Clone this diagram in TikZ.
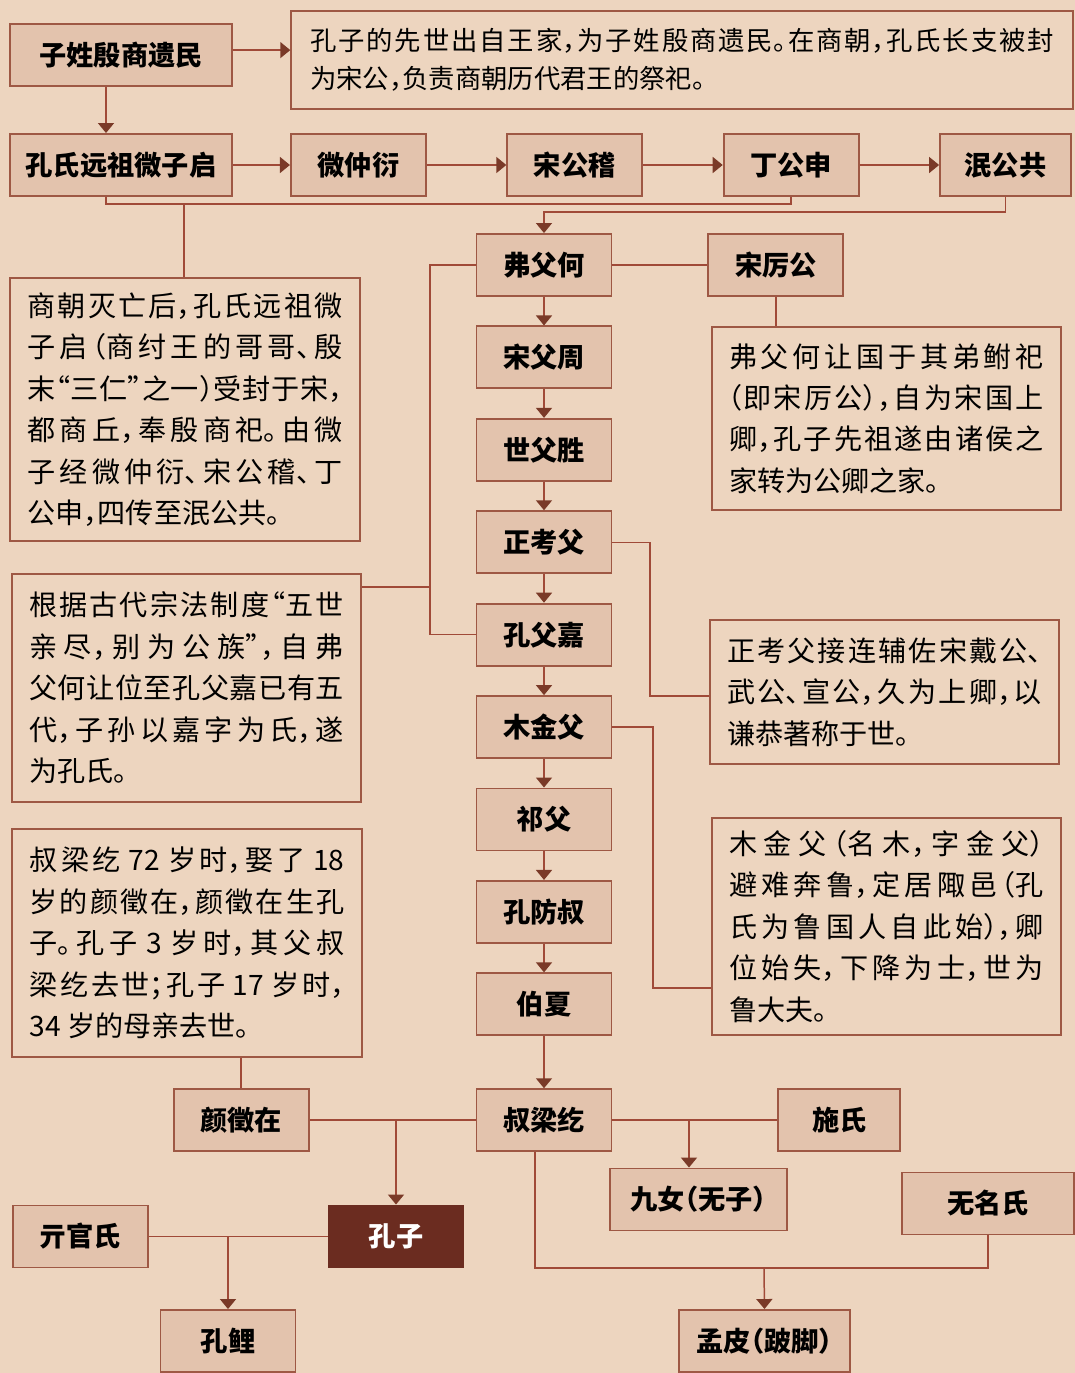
\documentclass[tikz,border=0pt]{standalone}
\usepackage{fontspec}
\setmainfont{Noto Sans CJK SC}[RawFeature=+halt]
\usepackage{tikz}
\usetikzlibrary{positioning,arrows.meta}
\XeTeXlinebreaklocale "zh"
\XeTeXlinebreakskip=0pt plus 4pt
\definecolor{paper}{HTML}{EDD5BF}
\definecolor{boxfill}{HTML}{E3C3AD}
\definecolor{boxline}{HTML}{9E5844}
\definecolor{rust}{HTML}{A04A38}
\definecolor{tipcol}{HTML}{7A3A28}
\definecolor{darkred}{HTML}{6B2C20}
\tikzset{
  box/.style={rectangle,draw=boxline,fill=boxfill,line width=1.1pt,
    minimum width=2.7cm,minimum height=1.24cm,inner sep=0pt,
    font=\fontsize{15.5}{18}\selectfont\bfseries},
  note/.style={rectangle,draw=boxline,line width=0.9pt,inner sep=0pt,
    text width=6.3cm,minimum width=6.98cm,align=justify,
    font=\fontsize{16}{23.6}\selectfont},
  fl/.style={-{Triangle[length=2mm,width=3.2mm,color=tipcol]},draw=rust,line width=0.85pt},
  ln/.style={draw=rust,line width=0.85pt},
}
\begin{document}
\begin{tikzpicture}[x=0.02cm,y=-0.02cm]
  \useasboundingbox (0,0) rectangle (1075,1373);
  \fill[paper] (0,0) rectangle (1075,1373);
  % origin and the Song line
  \node[box,minimum width=4.44cm] (wzq) at (121,165) {孔氏远祖微子启};
  \node[box,minimum width=4.44cm,above=9.2mm of wzq] (zx) {子姓殷商遗民};
  \node[note,text width=14.88cm,minimum width=15.64cm,minimum height=1.96cm,
    font=\fontsize{15}{21.5}\selectfont] (intro) at (682,60)
    {孔子的先世出自王家，为子姓殷商遗民。在商朝，孔氏长支被封\linebreak 为宋公，负责商朝历代君王的祭祀。};
  \node[box,right=11.4mm of wzq] (wzy) {微仲衍};
  \node[box,right=15.9mm of wzy] (sgj) {宋公稽};
  \node[box,right=15.9mm of sgj] (dgs) {丁公申};
  \node[box,right=15.9mm of dgs,minimum width=2.62cm] (mgg) {泯公共};
  % main column
  \node[box] (ffh) at (544,265) {弗父何};
  \node[box,right=19mm of ffh] (slg) {宋厉公};
  \node[box,below=5.7mm of ffh] (sfz) {宋父周};
  \node[box,below=5.7mm of sfz] (sfs) {世父胜};
  \node[box,below=5.7mm of sfs] (zkf) {正考父};
  \node[box,below=5.7mm of zkf] (kfj) {孔父嘉};
  \node[box,below=5.7mm of kfj] (mjf) {木金父};
  \node[box,below=5.7mm of mjf] (qf) {祁父};
  \node[box,below=5.7mm of qf] (kfs) {孔防叔};
  \node[box,below=5.7mm of kfs] (bx) {伯夏};
  \node[box,below=10.4mm of bx] (slh) {叔梁纥};
  \node[box,left=33.2mm of slh] (yzz) {颜徵在};
  \node[box,right=33mm of slh,minimum width=2.44cm] (ss) {施氏};
  \node[box,minimum width=3.54cm] (jn) at (698.5,1199.5) {九女（无子）};
  \node[box,minimum width=3.44cm] (wms) at (988,1203.5) {无名氏};
  \node[box,fill=darkred,draw=darkred,text=white] (kz) at (396,1236.5) {孔子};
  \node[box,left=35.8mm of kz] (qgs) {亓官氏};
  \node[box] (kl) at (228,1341) {孔鲤};
  \node[box,minimum width=3.42cm] (mp) at (764.5,1341) {孟皮（跛脚）};
  % notes
  \node[note,minimum width=7cm,minimum height=5.26cm] (n1) at (185,409.5)
    {商朝灭亡后，孔氏远祖微\linebreak 子启（商纣王的哥哥、殷\linebreak 末“三仁”之一）受封于宋，\linebreak 都商丘，奉殷商祀。由微\linebreak 子经微仲衍、宋公稽、丁\linebreak 公申，四传至泯公共。};
  \node[note,minimum height=3.66cm] (n2) at (886.5,418.5)
    {弗父何让国于其弟鲋祀\linebreak （即宋厉公），自为宋国上\linebreak 卿，孔子先祖遂由诸侯之\linebreak 家转为公卿之家。};
  \node[note,minimum height=4.56cm] (n3) at (186.5,688)
    {根据古代宗法制度“五世\linebreak 亲尽，别为公族”，自弗\linebreak 父何让位至孔父嘉已有五\linebreak 代，子孙以嘉字为氏，遂\linebreak 为孔氏。};
  \node[note,minimum height=2.88cm] (n4) at (884.5,692)
    {正考父接连辅佐宋戴公、\linebreak 武公、宣公，久为上卿，以\linebreak 谦恭著称于世。};
  \node[note,minimum width=7cm,minimum height=4.56cm] (n5) at (187,943)
    {叔梁纥 72 岁时，娶了 18\linebreak 岁的颜徵在，颜徵在生孔\linebreak 子。孔子 3 岁时，其父叔\linebreak 梁纥去世；孔子 17 岁时，\linebreak 34 岁的母亲去世。};
  \node[note,minimum height=4.34cm] (n6) at (886.5,926.5)
    {木金父（名木，字金父）\linebreak 避难奔鲁，定居陬邑（孔\linebreak 氏为鲁国人自此始），卿\linebreak 位始失，下降为士，世为\linebreak 鲁大夫。};
  % connectors
  \draw[fl] ([yshift=1mm]zx.east) -- ([yshift=1mm]zx.east -| intro.west);
  \draw[fl] ([xshift=-3mm]zx.south) -- ([xshift=-3mm]wzq.north);
  \foreach \a/\b in {wzq/wzy,wzy/sgj,sgj/dgs,dgs/mgg}
    \draw[fl] (\a) -- (\b);
  \coordinate (k1) at (184,204);
  \draw[ln] ([xshift=-3mm]wzq.south) |- (k1) -| (dgs.south);
  \draw[ln] (k1) -- (k1 |- n1.north);
  \coordinate (k2) at (544,212);
  \draw[fl] (mgg.south) |- (k2) -- (ffh.north);
  \draw[ln] (ffh) -- (slg);
  \draw[ln] (slg.south) -- (slg.south |- n2.north);
  \foreach \a/\b in {ffh/sfz,sfz/sfs,sfs/zkf,zkf/kfj,kfj/mjf,mjf/qf,qf/kfs,kfs/bx,bx/slh}
    \draw[fl] (\a) -- (\b);
  \coordinate (k3) at (430,587);
  \draw[ln] (ffh.west) -| (k3) |- (kfj.west);
  \draw[ln] (k3) -- (k3 -| n3.east);
  \coordinate (k4) at (650,696);
  \draw[ln] (zkf.east) -| (k4) -- (k4 -| n4.west);
  \coordinate (k5) at (653,988);
  \draw[ln] (mjf.east) -| (k5) -- (k5 -| n6.west);
  \draw[ln] (yzz.north |- n5.south) -- (yzz.north);
  \draw[ln] (yzz) -- (slh);
  \draw[ln] (slh) -- (ss);
  \coordinate (k6) at (kz.north |- slh);
  \draw[fl] (k6) -- (kz.north);
  \coordinate (k7) at (689,1121);
  \draw[fl] (k7) -- (k7 |- jn.north);
  \draw[ln] (qgs) -- (kz);
  \coordinate (k8) at (kl.north |- kz);
  \draw[fl] (k8) -- (kl.north);
  \coordinate (k9) at (764,1268);
  \draw[ln] ([xshift=-1.8mm]slh.south) |- (k9) -| (wms.south);
  \draw[fl] (k9) -- (mp.north);
\end{tikzpicture}
\end{document}
